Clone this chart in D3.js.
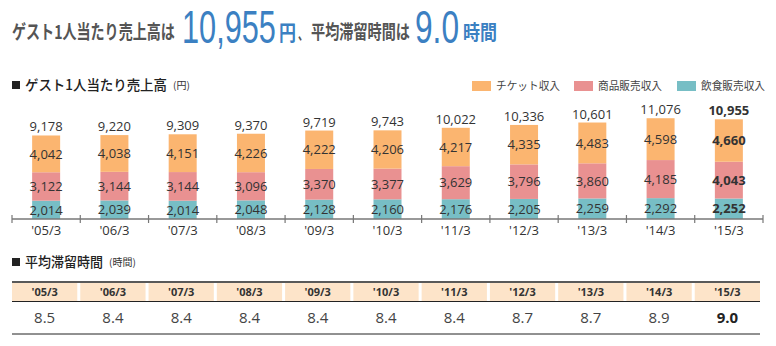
<!DOCTYPE html>
<html><head><meta charset="utf-8">
<script src="https://cdn.jsdelivr.net/npm/d3@7"></script>
<style>
body{margin:0;background:#fff;}
svg{display:block;font-family:"Open Sans","Noto Sans CJK JP",sans-serif;}
</style></head>
<body><svg id="c" width="776" height="346"></svg>
<script>
const years = ["'05/3","'06/3","'07/3","'08/3","'09/3","'10/3","'11/3","'12/3","'13/3","'14/3","'15/3"];
const ticket = [4042,4038,4151,4226,4222,4206,4217,4335,4483,4598,4660];
const goods  = [3122,3144,3144,3096,3370,3377,3629,3796,3860,4185,4043];
const food   = [2014,2039,2014,2048,2128,2160,2176,2205,2259,2292,2252];
const totals = [9178,9220,9309,9370,9719,9743,10022,10336,10601,11076,10955];
const stayHours = ["8.5","8.4","8.4","8.4","8.4","8.4","8.4","8.7","8.7","8.9","9.0"];
const seriesNames = ["チケット収入","商品販売収入","飲食販売収入"];
const colors = {"チケット収入":"#fbb570","商品販売収入":"#e99191","飲食販売収入":"#77bec5"};

const svg = d3.select("#c");
const blue = "#3b80c2", gray = "#555", txt = "#333";

// place a text at (x,y) and squeeze it horizontally to width w
function fit(sel, x, y, w){
  const n = sel.node().getComputedTextLength();
  sel.attr("x",0).attr("y",0).attr("transform",`translate(${x},${y}) scale(${(w/n).toFixed(4)},1)`);
  return sel;
}

// Title
const t = svg.append("g").attr("font-family","'Noto Sans CJK JP',sans-serif");
fit(t.append("text").attr("font-size",19).attr("font-weight",700).attr("fill",gray)
  .text("ゲスト1人当たり売上高は"), 12, 39, 163);
fit(t.append("text").attr("font-size",47).attr("fill",blue)
  .attr("font-family","'Liberation Sans',Arial,sans-serif").text("10,955"), 182, 43, 94);
fit(t.append("text").attr("font-size",21).attr("font-weight",700).attr("fill",blue).text("円"), 279, 40, 17);
fit(t.append("text").attr("font-size",16).attr("font-weight",700).attr("fill",gray).text("、"), 298, 40, 10);
fit(t.append("text").attr("font-size",19).attr("font-weight",700).attr("fill",gray)
  .text("平均滞留時間は"), 311, 39, 99);
fit(t.append("text").attr("font-size",47).attr("fill",blue)
  .attr("font-family","'Liberation Sans',Arial,sans-serif").text("9.0"), 415, 43, 44);
fit(t.append("text").attr("font-size",20).attr("font-weight",700).attr("fill",blue).text("時間"), 463, 40, 34);

// Section headers
function section(y, label, unit, labelLen){
  const g = svg.append("g").attr("font-family","'Noto Sans CJK JP',sans-serif");
  g.append("rect").attr("x",12).attr("y",y-4).attr("width",8).attr("height",8).attr("fill","#222");
  fit(g.append("text").attr("font-size",14).attr("font-weight",500).attr("fill","#222").text(label), 25, y+5, labelLen);
  g.append("text").attr("x",25+labelLen+6).attr("y",y+4).attr("font-size",10).attr("fill","#333").text(unit);
}
section(85, "ゲスト1人当たり売上高", "(円)", 142);
section(262, "平均滞留時間", "(時間)", 78);

// Scales
const x = d3.scaleBand().domain(years).range([12,763]).padding(0);
const y = d3.scaleLinear().domain([0,11000]).range([219,219-100.1]);
const bw = 28;

const data = years.map((yr,i)=>({year:yr, "飲食販売収入":food[i], "商品販売収入":goods[i], "チケット収入":ticket[i], total:totals[i], last:i===years.length-1}));
const stack = d3.stack().keys(["飲食販売収入","商品販売収入","チケット収入"]);
const layers = stack(data);

const bars = svg.append("g");
layers.forEach(layer=>{
  bars.selectAll(null).data(layer).enter().append("rect")
    .attr("x",d=>x(d.data.year)+x.bandwidth()/2-bw/2)
    .attr("width",bw)
    .attr("y",d=>y(d[1]))
    .attr("height",d=>y(d[0])-y(d[1]))
    .attr("fill",colors[layer.key]);
  bars.selectAll(null).data(layer).enter().append("text")
    .attr("x",d=>x(d.data.year)+x.bandwidth()/2)
    .attr("y",d=>(y(d[0])+y(d[1]))/2)
    .attr("dy","0.36em")
    .attr("text-anchor","middle").attr("font-size",13)
    .attr("font-weight",d=>d.data.last?700:400)
    .attr("fill",txt)
    .text(d=>d3.format(",")(d[1]-d[0]));
});
bars.selectAll(null).data(data).enter().append("text")
  .attr("x",d=>x(d.year)+x.bandwidth()/2)
  .attr("y",d=>y(d.total)-4)
  .attr("text-anchor","middle").attr("font-size",13)
  .attr("font-weight",d=>d.last?700:400)
  .attr("fill",txt)
  .text(d=>d3.format(",")(d.total));

// Axis
const ax = svg.append("g");
ax.append("line").attr("x1",12).attr("x2",763).attr("y1",219).attr("y2",219).attr("stroke","#777").attr("stroke-width",1.5);
const edges = years.map(yr=>x(yr)).concat([x(years[years.length-1])+x.bandwidth()]);
ax.selectAll(null).data(edges).enter().append("line")
  .attr("x1",d=>d).attr("x2",d=>d).attr("y1",215).attr("y2",223).attr("stroke","#777").attr("stroke-width",1.2);
ax.selectAll(null).data(years).enter().append("text")
  .attr("x",d=>x(d)+x.bandwidth()/2).attr("y",235)
  .attr("text-anchor","middle").attr("font-size",13).attr("fill",txt).text(d=>d);

// Legend
const lg = svg.append("g").attr("font-family","'Noto Sans CJK JP',sans-serif");
const legX = [472,574,677];
seriesNames.forEach((n,i)=>{
  lg.append("rect").attr("x",legX[i]).attr("y",81).attr("width",19).attr("height",10).attr("fill",colors[n]);
  fit(lg.append("text").attr("font-size",11).attr("fill","#444").text(n), legX[i]+24, 90, 64);
});

// Table
const tb = svg.append("g");
tb.selectAll(null).data(years).enter().append("rect")
  .attr("x",d=>x(d)).attr("y",283).attr("width",x.bandwidth()-3).attr("height",18).attr("fill","#fde4c9");
tb.selectAll(null).data(years).enter().append("text")
  .attr("x",d=>x(d)+(x.bandwidth()-3)/2).attr("y",296)
  .attr("text-anchor","middle").attr("font-size",11).attr("font-weight",700).attr("fill","#333").text(d=>d);
tb.append("line").attr("x1",12).attr("x2",760).attr("y1",282).attr("y2",282).attr("stroke","#222").attr("stroke-width",1.5);
tb.append("line").attr("x1",12).attr("x2",760).attr("y1",301.5).attr("y2",301.5).attr("stroke","#222").attr("stroke-width",1);
tb.append("line").attr("x1",12).attr("x2",760).attr("y1",334).attr("y2",334).attr("stroke","#222").attr("stroke-width",1);
tb.selectAll(null).data(stayHours).enter().append("text")
  .attr("x",(d,i)=>x(years[i])+(x.bandwidth()-3)/2).attr("y",323)
  .attr("text-anchor","middle").attr("font-size",15)
  .attr("font-weight",(d,i)=>i===stayHours.length-1?700:400)
  .attr("fill",(d,i)=>i===stayHours.length-1?"#222":"#444").text(d=>d);
</script></body></html>
